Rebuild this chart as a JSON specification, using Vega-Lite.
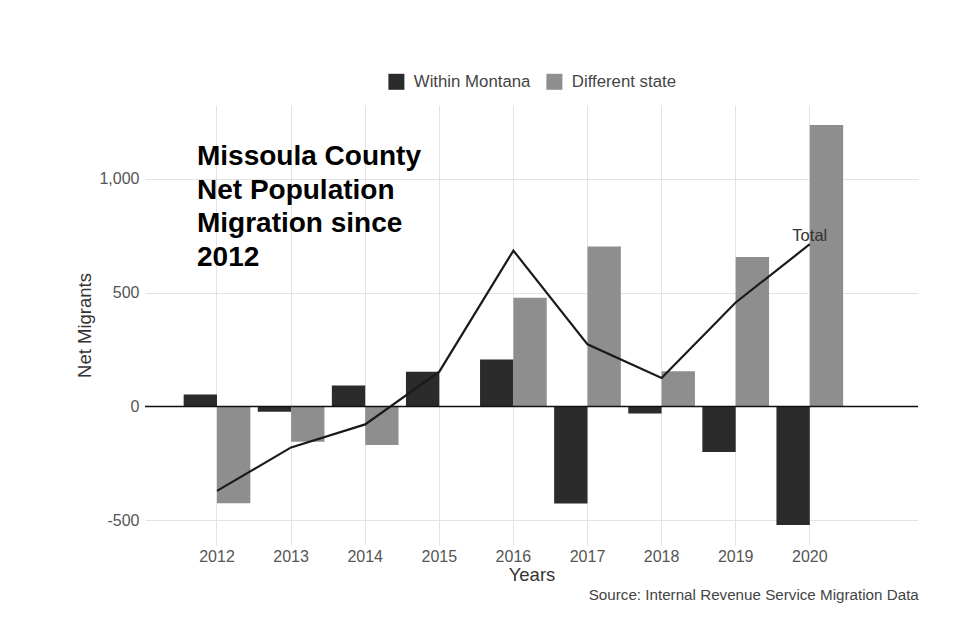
{
  "$schema": "https://vega.github.io/schema/vega-lite/v6.json",
  "width": 773,
  "height": 440,
  "autosize": {"type": "none"},
  "padding": {"left": 145, "top": 105, "right": 61, "bottom": 92},
  "background": "white",
  "config": {
    "font": "Liberation Sans",
    "view": {"stroke": null},
    "legend": {"labelFont": "Liberation Sans", "layout": {"top": {"anchor": "middle"}}},
    "axis": {"labelFont": "Liberation Sans", "titleFont": "Liberation Sans"}
  },
  "title": {
    "text": "Source: Internal Revenue Service Migration Data",
    "orient": "bottom",
    "anchor": "end",
    "fontSize": 15.2,
    "fontWeight": "normal",
    "color": "#444",
    "offset": 4
  },
  "datasets": {
    "bars": [
      {"year": 2012, "series": "Within Montana", "value": 53},
      {"year": 2012, "series": "Different state", "value": -425},
      {"year": 2013, "series": "Within Montana", "value": -23},
      {"year": 2013, "series": "Different state", "value": -155},
      {"year": 2014, "series": "Within Montana", "value": 92},
      {"year": 2014, "series": "Different state", "value": -170},
      {"year": 2015, "series": "Within Montana", "value": 153},
      {"year": 2015, "series": "Different state", "value": 0},
      {"year": 2016, "series": "Within Montana", "value": 206},
      {"year": 2016, "series": "Different state", "value": 478},
      {"year": 2017, "series": "Within Montana", "value": -427},
      {"year": 2017, "series": "Different state", "value": 703},
      {"year": 2018, "series": "Within Montana", "value": -31},
      {"year": 2018, "series": "Different state", "value": 155},
      {"year": 2019, "series": "Within Montana", "value": -200},
      {"year": 2019, "series": "Different state", "value": 657},
      {"year": 2020, "series": "Within Montana", "value": -521},
      {"year": 2020, "series": "Different state", "value": 1237}
    ],
    "totals": [
      {"year": 2012, "total": -371},
      {"year": 2013, "total": -180},
      {"year": 2014, "total": -79},
      {"year": 2015, "total": 153},
      {"year": 2016, "total": 685},
      {"year": 2017, "total": 273},
      {"year": 2018, "total": 125},
      {"year": 2019, "total": 457},
      {"year": 2020, "total": 713}
    ]
  },
  "layer": [
    {
      "data": {"name": "bars"},
      "mark": {"type": "bar"},
      "encoding": {
        "x": {
          "field": "year",
          "type": "ordinal",
          "scale": {"type": "band", "paddingInner": 0.1, "paddingOuter": 0.766, "align": 0.3405, "round": false},
          "axis": {
            "title": "Years",
            "labelAngle": 0,
            "ticks": false,
            "domain": false,
            "grid": true,
            "gridColor": "#e3e3e3",
            "bandPosition": 0.5,
            "labelFontSize": 16,
            "labelColor": "#555",
            "labelPadding": 3,
            "titleFontSize": 18.5,
            "titleFontWeight": "normal",
            "titleColor": "#333",
            "titlePadding": 1
          }
        },
        "xOffset": {
          "field": "series",
          "type": "nominal",
          "scale": {"domain": ["Within Montana", "Different state"], "paddingInner": 0, "paddingOuter": 0}
        },
        "y": {
          "field": "value",
          "type": "quantitative",
          "scale": {"domain": [-609, 1325], "nice": false, "zero": false},
          "axis": {
            "title": "Net Migrants",
            "values": [-500, 0, 500, 1000],
            "labelExpr": "replace(format(datum.value, ','), '\u2212', '-')",
            "ticks": false,
            "domain": false,
            "gridColor": "#e3e3e3",
            "labelFontSize": 16,
            "labelColor": "#555",
            "labelPadding": 6,
            "titleFontSize": 18.5,
            "titleFontWeight": "normal",
            "titleColor": "#333",
            "titlePadding": 4
          }
        },
        "color": {
          "field": "series",
          "type": "nominal",
          "scale": {"domain": ["Within Montana", "Different state"], "range": ["#2b2b2b", "#8e8e8e"]},
          "legend": {
            "orient": "top",
            "direction": "horizontal",
            "title": null,
            "symbolType": "square",
            "symbolSize": 256,
            "symbolStrokeWidth": 0,
            "symbolOpacity": 1,
            "labelFontSize": 16.8,
            "labelColor": "#444",
            "labelOffset": 9,
            "columnPadding": 15,
            "offset": 14
          }
        }
      }
    },
    {
      "data": {"values": [{}]},
      "mark": {"type": "rule", "color": "#111", "strokeWidth": 1.6},
      "encoding": {"y": {"datum": 0, "type": "quantitative"}}
    },
    {
      "data": {"name": "totals"},
      "mark": {"type": "line", "color": "#1a1a1a", "strokeWidth": 2.2},
      "encoding": {
        "x": {"field": "year", "type": "ordinal", "bandPosition": 0.5, "scale": {"type": "band"}},
        "y": {"field": "total", "type": "quantitative"}
      }
    },
    {
      "data": {"name": "totals"},
      "transform": [{"filter": "datum.year == 2020"}],
      "mark": {"type": "text", "text": "Total", "align": "center", "baseline": "alphabetic", "dy": -3, "fontSize": 16.5, "color": "#333"},
      "encoding": {
        "x": {"field": "year", "type": "ordinal", "bandPosition": 0.5, "scale": {"type": "band"}},
        "y": {"field": "total", "type": "quantitative"}
      }
    },
    {
      "data": {"values": [{}]},
      "mark": {
        "type": "text",
        "text": ["Missoula County", "Net Population", "Migration since", "2012"],
        "align": "left",
        "baseline": "alphabetic",
        "fontSize": 28,
        "fontWeight": "bold",
        "lineHeight": 33.5,
        "color": "#000"
      },
      "encoding": {
        "x": {"datum": 2012, "type": "ordinal", "bandPosition": 0.2, "scale": {"type": "band"}},
        "y": {"datum": 1061, "type": "quantitative"}
      }
    }
  ]
}
